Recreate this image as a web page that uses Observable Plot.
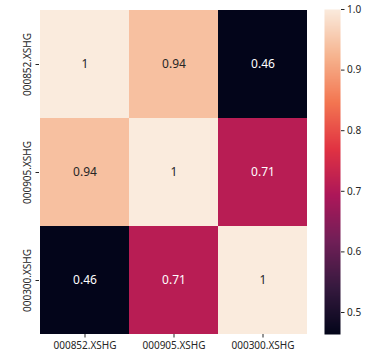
<!DOCTYPE html>
<html>
<head>
<meta charset="utf-8">
<script src="https://cdn.jsdelivr.net/npm/d3@7"></script>
<script src="https://cdn.jsdelivr.net/npm/@observablehq/plot@0.6"></script>
<style>
  html, body { margin: 0; padding: 0; background: #fff; }
  #wrap { position: relative; width: 380px; height: 360px; overflow: hidden; }
  #wrap svg { position: absolute; top: 0; font-family: "Noto Sans", sans-serif; }
</style>
</head>
<body>
<div id="wrap"></div>
<script>
// ---- data ----
const labels = ["000852.XSHG", "000905.XSHG", "000300.XSHG"];
const row0 = [1, 0.94, 0.464];
const row1 = [0.94, 1, 0.71];
const row2 = [0.464, 0.71, 1];
const colorbarMin = 0.4637;
const colorbarMax = 1;
const colorbarTicks = [0.5, 0.6, 0.7, 0.8, 0.9, 1.0];
// seaborn "rocket" colormap stops
const rocketPos = [0, 1/7, 2/7, 3/7, 4/7, 5/7, 6/7, 1];
const rocketCol = ["#03051a", "#35193e", "#701f57", "#ad1759", "#e13342", "#f37651", "#f6b48f", "#faebdd"];

const rows = [row0, row1, row2];
const cells = [];
rows.forEach((r, i) => r.forEach((v, j) => cells.push({x: labels[j], y: labels[i], v})));

const colorOpts = {
  type: "linear",
  domain: rocketPos.map(t => colorbarMin + t * (colorbarMax - colorbarMin)),
  range: rocketCol,
  interpolate: "rgb",
  clamp: true
};
const fmt = d3.format(".2~g");

const main = Plot.plot({
  width: 380,
  height: 360,
  marginLeft: 39,
  marginRight: 73,
  marginTop: 9,
  marginBottom: 26,
  style: {fontSize: "10px", fontFamily: "Noto Sans, sans-serif", color: "#262626"},
  x: {type: "band", domain: labels, padding: 0, label: null, tickSize: 3.5, tickPadding: 4},
  y: {type: "band", domain: labels, padding: 0, label: null, tickSize: 3.5, tickPadding: 5, tickRotate: -90},
  color: colorOpts,
  marks: [
    Plot.cell(cells, {x: "x", y: "y", fill: "v", inset: 0}),
    Plot.text(cells, {
      x: "x", y: "y", text: d => fmt(d.v),
      fill: d => d.v > 0.8 ? "#262626" : "#ffffff",
      fontSize: 12
    })
  ]
});
main.style.left = "0px";
document.getElementById("wrap").appendChild(main);

const bar = Plot.plot({
  width: 56,
  height: 360,
  marginLeft: 0,
  marginRight: 40,
  marginTop: 9,
  marginBottom: 26,
  style: {fontSize: "10px", fontFamily: "Noto Sans, sans-serif", color: "#262626", overflow: "visible"},
  x: {domain: [0, 1], axis: null},
  y: {domain: [colorbarMin, colorbarMax], axis: "right", ticks: colorbarTicks, tickFormat: ".1f", label: null, tickSize: 3.5, tickPadding: 3},
  color: colorOpts,
  marks: [
    Plot.raster({fill: (x, y) => y, x1: 0, x2: 1, y1: colorbarMin, y2: colorbarMax, pixelSize: 1, imageRendering: "auto"})
  ]
});
bar.style.left = "324px";
document.getElementById("wrap").appendChild(bar);
</script>
</body>
</html>
